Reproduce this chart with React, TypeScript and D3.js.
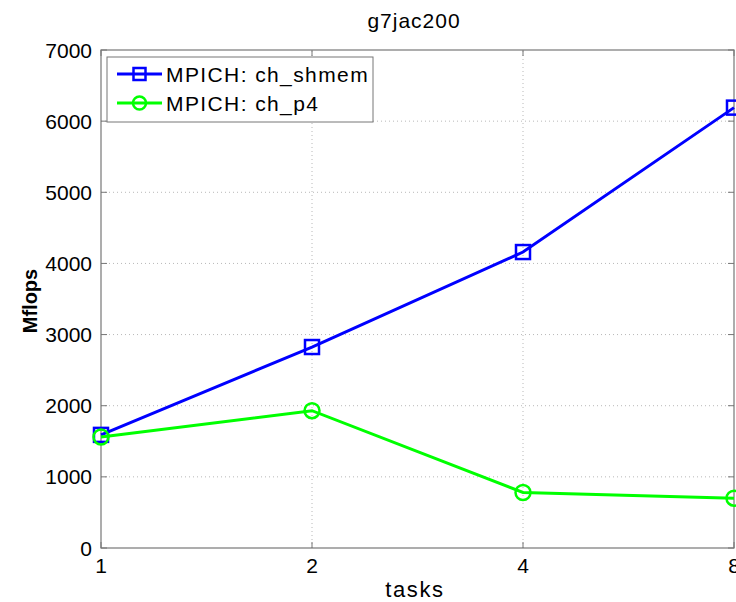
import React, { useEffect, useRef } from "react";
import * as d3 from "d3";

const tasks = [1, 2, 4, 8];
const shmem = [1590, 2825, 4160, 6190];
const p4 = [1560, 1930, 780, 700];
const yTicks = [0, 1000, 2000, 3000, 4000, 5000, 6000, 7000];
const seriesNames = ["MPICH: ch_shmem", "MPICH: ch_p4"];

const App = () => {
  const svgRef = useRef<SVGSVGElement>(null);

  useEffect(() => {
    const width = 736;
    const height = 602;
    const margin = { top: 50, right: 2, bottom: 54, left: 101 };
    const font = "'Liberation Sans', Arial, sans-serif";

    d3.select(svgRef.current).selectAll("*").remove();
    const svg = d3
      .select(svgRef.current)
      .attr("width", width)
      .attr("height", height)
      .style("font-family", font);

    const x = d3
      .scaleLog()
      .base(2)
      .domain([1, 8])
      .range([margin.left, width - margin.right]);
    const y = d3
      .scaleLinear()
      .domain([0, 7000])
      .range([height - margin.bottom, margin.top]);

    const x0 = x.range()[0];
    const x1 = x.range()[1];
    const y0 = y.range()[0];
    const y1 = y.range()[1];

    svg.append("rect").attr("width", width).attr("height", height).attr("fill", "white");

    // grid
    const grid = svg.append("g").attr("stroke", "#b8b8b8").attr("stroke-dasharray", "1,3");
    grid
      .selectAll(".gx")
      .data(tasks.slice(1, -1))
      .enter()
      .append("line")
      .attr("x1", (d) => x(d))
      .attr("x2", (d) => x(d))
      .attr("y1", y0)
      .attr("y2", y1);
    grid
      .selectAll(".gy")
      .data(yTicks.slice(1, -1))
      .enter()
      .append("line")
      .attr("x1", x0)
      .attr("x2", x1)
      .attr("y1", (d) => y(d))
      .attr("y2", (d) => y(d));

    // ticks (inside, all four sides)
    const tl = 6;
    const ticks = svg.append("g").attr("stroke", "#777").attr("stroke-width", 1);
    tasks.forEach((t) => {
      ticks.append("line").attr("x1", x(t)).attr("x2", x(t)).attr("y1", y0).attr("y2", y0 - tl);
      ticks.append("line").attr("x1", x(t)).attr("x2", x(t)).attr("y1", y1).attr("y2", y1 + tl);
    });
    yTicks.forEach((v) => {
      ticks.append("line").attr("x1", x0).attr("x2", x0 + tl).attr("y1", y(v)).attr("y2", y(v));
      ticks.append("line").attr("x1", x1).attr("x2", x1 - tl).attr("y1", y(v)).attr("y2", y(v));
    });

    svg
      .append("rect")
      .attr("x", x0)
      .attr("y", y1)
      .attr("width", x1 - x0)
      .attr("height", y0 - y1)
      .attr("fill", "none")
      .attr("stroke", "#777")
      .attr("stroke-width", 1.2);

    // tick labels
    svg
      .selectAll(".xl")
      .data(tasks)
      .enter()
      .append("text")
      .attr("x", (d) => x(d))
      .attr("y", 573)
      .attr("text-anchor", "middle")
      .style("font-size", "21px")
      .text((d) => d);
    svg
      .selectAll(".yl")
      .data(yTicks)
      .enter()
      .append("text")
      .attr("x", x0 - 9)
      .attr("y", (d) => y(d) + 7.5)
      .attr("text-anchor", "end")
      .style("font-size", "21px")
      .text((d) => d);

    // titles
    svg
      .append("text")
      .attr("x", 414)
      .attr("y", 28)
      .attr("text-anchor", "middle")
      .style("font-size", "21px")
      .style("letter-spacing", "1px")
      .text("g7jac200");
    svg
      .append("text")
      .attr("x", 415)
      .attr("y", 597)
      .attr("text-anchor", "middle")
      .style("font-size", "22px")
      .style("letter-spacing", "1.6px")
      .text("tasks");
    svg
      .append("text")
      .attr("transform", `translate(37,${(y0 + y1) / 2 + 2}) rotate(-90)`)
      .attr("text-anchor", "middle")
      .style("font-size", "20px")
      .style("font-weight", "bold")
      .text("Mflops");

    // lines
    const line = d3
      .line<number>()
      .x((_, i) => x(tasks[i]))
      .y((d) => y(d));

    const drawSquares = (g: any, data: number[], color: string, s: number) => {
      g.selectAll(".sq")
        .data(data)
        .enter()
        .append("rect")
        .attr("x", (_: number, i: number) => x(tasks[i]) - s / 2)
        .attr("y", (d: number) => y(d) - s / 2)
        .attr("width", s)
        .attr("height", s)
        .attr("fill", "none")
        .attr("stroke", color)
        .attr("stroke-width", 2.5);
    };
    const drawCircles = (g: any, data: number[], color: string, r: number) => {
      g.selectAll(".ci")
        .data(data)
        .enter()
        .append("circle")
        .attr("cx", (_: number, i: number) => x(tasks[i]))
        .attr("cy", (d: number) => y(d))
        .attr("r", r)
        .attr("fill", "none")
        .attr("stroke", color)
        .attr("stroke-width", 2.5);
    };

    const gBlue = svg.append("g");
    gBlue
      .append("path")
      .attr("d", line(shmem))
      .attr("fill", "none")
      .attr("stroke", "#0000ff")
      .attr("stroke-width", 3);
    drawSquares(gBlue, shmem, "#0000ff", 14);

    const gGreen = svg.append("g");
    gGreen
      .append("path")
      .attr("d", line(p4))
      .attr("fill", "none")
      .attr("stroke", "#00ff00")
      .attr("stroke-width", 3);
    drawCircles(gGreen, p4, "#00ff00", 7.5);

    // legend
    const lg = svg.append("g");
    lg.append("rect")
      .attr("x", 107)
      .attr("y", 57)
      .attr("width", 266)
      .attr("height", 65)
      .attr("fill", "white")
      .attr("stroke", "#777")
      .attr("stroke-width", 1);
    const colors = ["#0000ff", "#00ff00"];
    seriesNames.forEach((name, i) => {
      const ly = 74 + i * 29;
      lg.append("line")
        .attr("x1", 117)
        .attr("x2", 162)
        .attr("y1", ly)
        .attr("y2", ly)
        .attr("stroke", colors[i])
        .attr("stroke-width", 3);
      if (i === 0) {
        lg.append("rect")
          .attr("x", 139.5 - 6)
          .attr("y", ly - 6)
          .attr("width", 12)
          .attr("height", 12)
          .attr("fill", "none")
          .attr("stroke", colors[i])
          .attr("stroke-width", 2.5);
      } else {
        lg.append("circle")
          .attr("cx", 139.5)
          .attr("cy", ly)
          .attr("r", 6.5)
          .attr("fill", "none")
          .attr("stroke", colors[i])
          .attr("stroke-width", 2.5);
      }
      lg.append("text")
        .attr("x", 166)
        .attr("y", ly + 7.5)
        .style("font-size", "21px")
        .style("letter-spacing", "1.4px")
        .text(name);
    });
  }, []);

  return (
    <div style={{ position: "absolute", left: 0, top: 0 }}>
      <svg ref={svgRef}></svg>
    </div>
  );
};

export default App;
